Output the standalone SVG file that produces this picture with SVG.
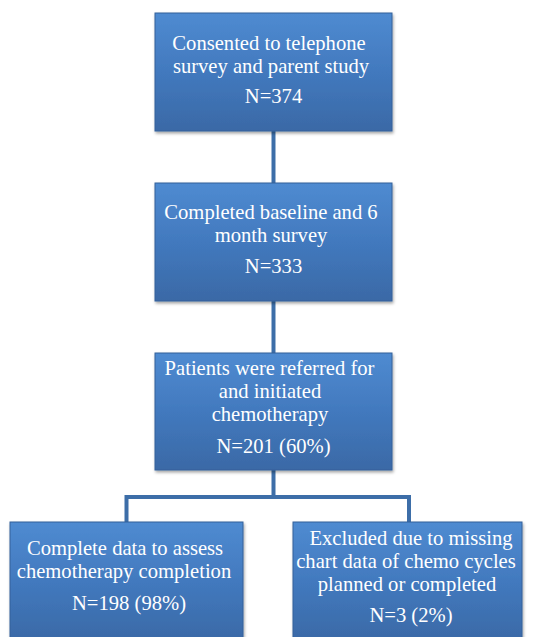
<svg xmlns="http://www.w3.org/2000/svg" width="534" height="637" viewBox="0 0 534 637">
<defs>
<linearGradient id="g" x1="0" y1="0" x2="0" y2="1">
<stop offset="0" stop-color="#4f8bd1"/>
<stop offset="0.5" stop-color="#4279be"/>
<stop offset="1" stop-color="#3a69a6"/>
</linearGradient>
<filter id="sh" x="-10%" y="-10%" width="125%" height="130%">
<feDropShadow dx="1" dy="2" stdDeviation="1.5" flood-color="#000" flood-opacity="0.35"/>
</filter>
</defs>
<style>
.box{fill:url(#g);stroke:#35609a;stroke-width:1;filter:url(#sh)}
.t{font-family:"Liberation Serif","Times New Roman",serif;font-size:20.6px;fill:#fff;text-anchor:middle}
.c{fill:none;stroke:#3d6ea8;stroke-width:4}
</style>
<rect width="534" height="637" fill="#fff"/>
<g id="connectors">
<line class="c" x1="273.5" y1="131" x2="273.5" y2="184"/>
<line class="c" x1="273.5" y1="301" x2="273.5" y2="354"/>
<polyline class="c" points="273.5,470 273.5,497 126.5,497 126.5,523"/>
<polyline class="c" points="273.5,497 409,497 409,523"/>
</g>
<g id="n1">
<rect class="box" x="155" y="13" width="237" height="118"/>
<text class="t" x="269" y="50">Consented to telephone</text>
<text class="t" x="271" y="73">survey and parent study</text>
<text class="t" x="273.5" y="103">N=374</text>
</g>
<g id="n2">
<rect class="box" x="155" y="183" width="237" height="118"/>
<text class="t" x="271" y="219">Completed baseline and 6</text>
<text class="t" x="271" y="242">month survey</text>
<text class="t" x="273.5" y="273">N=333</text>
</g>
<g id="n3">
<rect class="box" x="155" y="353" width="237" height="117"/>
<text class="t" x="269.5" y="375">Patients were referred for</text>
<text class="t" x="270" y="398">and initiated</text>
<text class="t" x="270" y="421">chemotherapy</text>
<text class="t" x="273.5" y="453">N=201 (60%)</text>
</g>
<g id="n4">
<rect class="box" x="10" y="522" width="233" height="120"/>
<text class="t" x="125" y="555">Complete data to assess</text>
<text class="t" x="124" y="578">chemotherapy completion</text>
<text class="t" x="129" y="610">N=198 (98%)</text>
</g>
<g id="n5">
<rect class="box" x="293" y="522" width="229" height="120"/>
<text class="t" x="411" y="545">Excluded due to missing</text>
<text class="t" x="406" y="568">chart data of chemo cycles</text>
<text class="t" x="407" y="591">planned or completed</text>
<text class="t" x="411" y="622">N=3 (2%)</text>
</g>
</svg>
